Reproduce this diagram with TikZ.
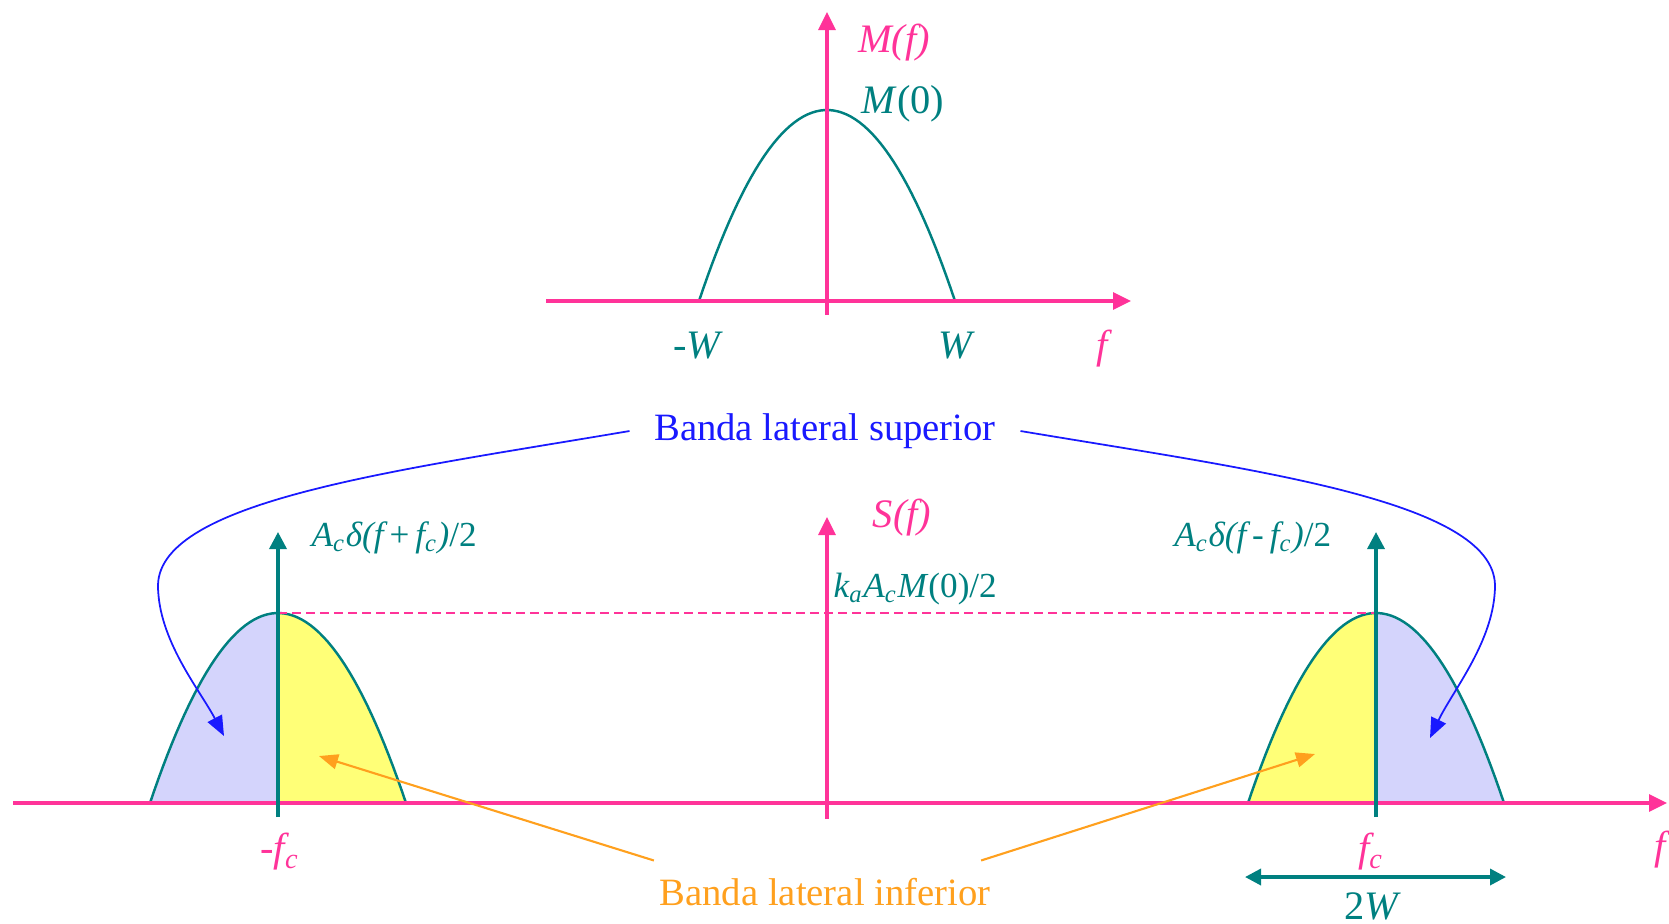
\documentclass[tikz,border=0pt]{standalone}
\usepackage{fontspec}
\setmainfont{Liberation Serif}
\usetikzlibrary{arrows.meta,calc}
\definecolor{axpink}{RGB}{255,51,153}
\definecolor{tealc}{RGB}{0,128,128}
\definecolor{blu}{RGB}{25,25,255}
\definecolor{orng}{RGB}{255,160,30}
\definecolor{lav}{RGB}{212,212,252}
\definecolor{yel}{RGB}{255,255,119}
\newcommand\sbs[1]{\textsubscript{#1}}
\begin{document}
\begin{tikzpicture}[x=0.01cm,y=-0.01cm,
 axis/.style={draw=axpink, line width=0.9pt},
 axarrow/.style={axis,-{Triangle[length=0.18cm,width=0.17cm]}},
 spec/.style={draw=tealc, line width=0.7pt},
 imp/.style={draw=tealc, line width=1pt, -{Triangle[length=0.17cm,width=0.17cm]}},
 lbl/.style={inner sep=0pt, font=\fontsize{11.5}{13}\selectfont\itshape},
 slbl/.style={inner sep=0pt, font=\fontsize{10}{12}\selectfont\itshape},
 pinklbl/.style={lbl, text=axpink},
 teallbl/.style={lbl, text=tealc},
 bluearrow/.style={draw=blu, line width=0.5pt, -{Triangle[length=0.2cm,width=0.16cm]}},
 orangearrow/.style={draw=orng, line width=0.6pt, -{Triangle[length=0.19cm,width=0.15cm]}},
 band/.style={font=\fontsize{11}{13}\selectfont}
]
\useasboundingbox (0,0) rectangle (1669,923);
% ---------- top spectrum ----------
\draw[spec] plot[domain=-128:128,samples=60] ({827+\x},{301-191*(1-(\x/128)^2)});
\draw[axarrow] (546,301) -- (1131,301);
\draw[axarrow] (827,315) -- (827,12);
\node[pinklbl] (Mf) at (894,43) {M(f)};
\node[teallbl] (M0) at (903,104) {M\textup{(0)}};
\node[teallbl] (mW) at (697,346) {\textup{-}W};
\node[teallbl] (W) at (955,346) {W};
\node[pinklbl] (f1) at (1102,349) {f};
% ---------- bottom spectrum ----------
\fill[lav] (150,803) -- plot[domain=-128:0,samples=40] ({278+\x},{803-190*(1-(\x/128)^2)}) -- (278,803) -- cycle;
\fill[yel] (278,803) -- plot[domain=0:128,samples=40] ({278+\x},{803-190*(1-(\x/128)^2)}) -- cycle;
\fill[yel] (1248,803) -- plot[domain=-128:0,samples=40] ({1376+\x},{803-190*(1-(\x/128)^2)}) -- (1376,803) -- cycle;
\fill[lav] (1376,803) -- plot[domain=0:128,samples=40] ({1376+\x},{803-190*(1-(\x/128)^2)}) -- cycle;
\draw[spec] plot[domain=-128:128,samples=60] ({278+\x},{803-190*(1-(\x/128)^2)});
\draw[spec] plot[domain=-128:128,samples=60] ({1376+\x},{803-190*(1-(\x/128)^2)});
\draw[draw=axpink, line width=0.5pt, dash pattern=on 0.09cm off 0.05cm] (278,613) -- (1376,613);
\draw[axarrow] (13,803) -- (1667,803);
\draw[axarrow] (827,819) -- (827,517);
\draw[imp] (278,817) -- (278,532);
\draw[imp] (1376,817) -- (1376,532);
\draw[draw=tealc, line width=1pt, {Triangle[length=0.16cm,width=0.16cm]}-{Triangle[length=0.16cm,width=0.16cm]}] (1245,877) -- (1506,877);
\node[slbl, text=tealc, anchor=west] (dl) at (311,538) {A\sbs{c}δ(f\,\textup{+}\,f\sbs{c})\textup{/2}};
\node[slbl, text=tealc, anchor=east] (dr) at (1332,538) {A\sbs{c}δ(f\,\textup{-}\,f\sbs{c})\textup{/2}};
\node[pinklbl] (Sf) at (902,518) {S(f)};
\node[slbl, text=tealc, anchor=west] (k) at (833,589) {k\sbs{a}A\sbs{c}M\textup{(0)/2}};
\node[pinklbl] (mfc) at (280,852) {\textup{-}f\sbs{c}};
\node[pinklbl] (fc) at (1371,852) {f\sbs{c}};
\node[pinklbl] (f2) at (1660,850) {f};
\node[teallbl] (w2) at (1371,906) {\textup{2}W};
% ---------- band labels ----------
\node[band, text=blu, inner xsep=0.24cm] (sup) at (825,431) {Banda lateral superior};
\node[band, text=orng, inner xsep=0.05cm, inner ysep=0.17cm] (inf) at (825,892) {Banda lateral inferior};
\coordinate (bl) at (224,736);
\coordinate (br) at (1430,738);
\coordinate (ol) at (319,756);
\coordinate (or) at (1315,754);
\draw[bluearrow] (sup.west) .. controls (400,470) and (160,500) .. (158,585) .. controls (158,640) and (200,690) .. (bl);
\draw[bluearrow] (sup.east) .. controls (1253,470) and (1493,500) .. (1495,585) .. controls (1495,640) and (1453,690) .. (br);
\draw[orangearrow] (inf.north west) -- (ol);
\draw[orangearrow] ([xshift=-0.15cm]inf.north east) -- (or);
\end{tikzpicture}
\end{document}
